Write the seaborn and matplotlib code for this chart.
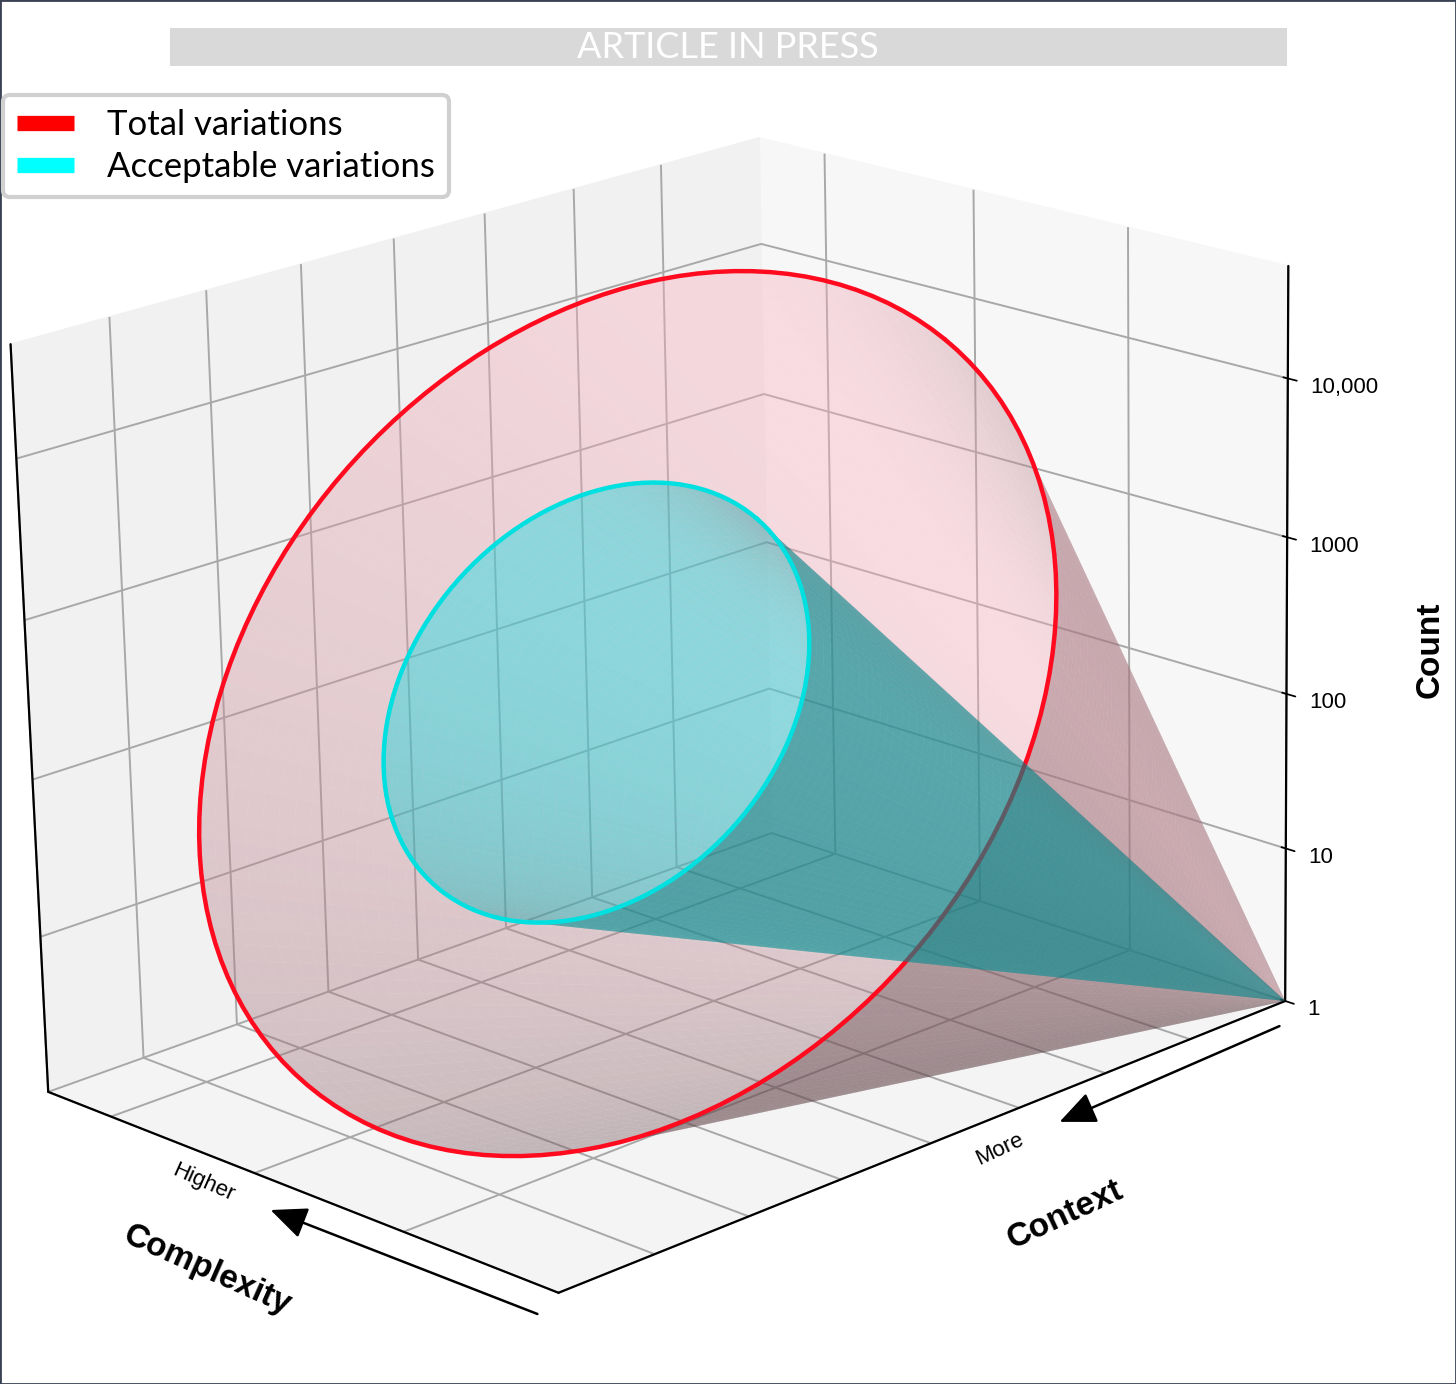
import numpy as np
import matplotlib.pyplot as plt
import seaborn as sns
from matplotlib.colors import LightSource
from matplotlib.lines import Line2D
from matplotlib.patches import Rectangle, FancyArrowPatch

sns.set_theme(style='white')
plt.rcParams['font.family'] = ['Liberation Sans', 'DejaVu Sans']
plt.rcParams['grid.color'] = '#a8a8a8'
plt.rcParams['grid.linewidth'] = 1.4
plt.rcParams['axes.edgecolor'] = 'black'
plt.rcParams['axes.linewidth'] = 1.6
plt.rcParams['axes.labelcolor'] = 'black'
plt.rcParams['xtick.color'] = 'black'
plt.rcParams['ytick.color'] = 'black'
plt.rcParams['text.color'] = 'black'

# axis values
context_ticks = [0, 1, 2, 3, 4, 5, 6, 7]
complexity_ticks = [0, 1, 2, 3]
count_values = [1, 10, 100, 1000, 10000]
count_labels = ['1', '10', '100', '1000', '10,000']
context_max = 8.15
complexity_max = 3.45
log_count_max = 4.7

# cones share the apex at (max context, min complexity, count 1); sizes in box units
cone_names = ['Total variations', 'Acceptable variations']
base_offsets = [np.array([-0.572, 0.363, 0.379]), np.array([-0.596, 0.370, 0.387])]
cone_radius = [0.478, 0.2375]
base_dir1 = np.array([0.658, -0.304, 0.688])
base_dir2 = np.array([0.1425, 0.948, 0.283])
light_alt = [-25, 19.47]
line_colors = ['#ff0a1e', '#00e0e0']
fill_colors = ['#ffb3c1', '#00e4ea']
fill_alpha = [0.38, 0.40]

box = (1.008, 0.731, 0.768)
box_arr = np.array(box)
lims = np.array([context_max, complexity_max, log_count_max])

fig = plt.figure(figsize=(14.56, 13.84), dpi=100)
ax = fig.add_axes([-0.0585, -0.0415, 1.003, 1.07], projection='3d')
ax.set_box_aspect(box, zoom=0.9922)
ax.view_init(elev=18.9, azim=-133.8, roll=1.3)
ax.computed_zorder = False

apex = np.array([box_arr[0], 0, 0])
t = np.linspace(0, 1, 70)
s = np.linspace(0, 2 * np.pi, 140)
T, _ = np.meshgrid(t, s)

for i, name in enumerate(cone_names):
    centre = apex + base_offsets[i]
    rim_box = centre + cone_radius[i] * (np.cos(s)[:, None] * base_dir1
                                         + np.sin(s)[:, None] * base_dir2)
    pts = apex + T[..., None] * (rim_box[:, None, :] - apex)
    pts = pts / box_arr * lims
    ax.plot_surface(pts[..., 0], pts[..., 1], pts[..., 2], color=fill_colors[i],
                    alpha=fill_alpha[i], linewidth=0, antialiased=True,
                    shade=True, lightsource=LightSource(azdeg=225, altdeg=light_alt[i]),
                    rstride=1, cstride=1, zorder=2 + 2 * i)
    rim = rim_box / box_arr * lims
    ax.plot(rim[:, 0], rim[:, 1], rim[:, 2], color=line_colors[i], lw=3.2,
            zorder=3 + 2 * i)

# dark left edge of the back wall
ax.plot([0, 0], [complexity_max, complexity_max], [0, log_count_max],
        color='black', lw=1.6, zorder=1)

ax.set_xlim(0, context_max)
ax.set_ylim(0, complexity_max)
ax.set_zlim(0, log_count_max)
ax.grid(True)

ax.set_xticks(context_ticks)
ax.set_xticklabels([''] * len(context_ticks))
ax.set_yticks(complexity_ticks)
ax.set_yticklabels([''] * len(complexity_ticks))
ax.set_zticks(np.log10(count_values))
ax.set_zticklabels(count_labels, fontsize=16, ha='left')
ax.zaxis.set_ticks_position('lower')
ax.zaxis.set_tick_params(pad=2)
for axis in (ax.xaxis, ax.yaxis):
    axis._axinfo['tick']['inward_factor'] = 0
    axis._axinfo['tick']['outward_factor'] = 0

ax.xaxis.set_pane_color('#f7f7f7')
ax.yaxis.set_pane_color('#f1f1f1')
ax.zaxis.set_pane_color('#f4f4f4')


def px(x, y):
    return x / 1456, 1 - y / 1384


# axis names and the single tick words
fig.text(*px(1065, 1215), 'Context', fontsize=24, fontweight='bold', rotation=25,
         ha='center', va='center')
fig.text(*px(207, 1270), 'Complexity', fontsize=24, fontweight='bold', rotation=-24,
         ha='center', va='center')
fig.text(*px(1430, 650), 'Count', fontsize=24, fontweight='bold', rotation=90,
         ha='center', va='center')
fig.text(*px(1000, 1149), 'More', fontsize=16, rotation=25, ha='center', va='center')
fig.text(*px(203, 1183), 'Higher', fontsize=16, rotation=-24, ha='center', va='center')

# legend
handles = [Line2D([], [], color=c, lw=11, solid_capstyle='butt')
           for c in ['#ff0000', '#00ffff']]
leg = fig.legend(handles, cone_names, loc='upper left',
                 bbox_to_anchor=px(3, 95), borderaxespad=0,
                 prop={'family': 'Lato', 'size': 25}, frameon=True, fancybox=True,
                 edgecolor='#d0d0d0', framealpha=1, handlelength=1.65,
                 handletextpad=0.95, borderpad=0.4, labelspacing=0.3)
leg.get_frame().set_linewidth(3)

# banner
fig.patches.append(Rectangle(px(170, 66), 1117 / 1456, 38 / 1384,
                             transform=fig.transFigure, facecolor='#d9d9d9',
                             edgecolor='none'))
fig.text(*px(728, 48), 'ARTICLE IN PRESS', ha='center', va='center',
         color='white', fontsize=26, family='Lato')

# direction arrows
for start, end in [((540, 1315), (268, 1209)), ((1282, 1025), (1057, 1123))]:
    fig.add_artist(FancyArrowPatch(px(*start), px(*end), transform=fig.transFigure,
                                   arrowstyle='-|>,head_length=0.8,head_width=0.35',
                                   mutation_scale=28, lw=1.8, color='black'))

fig.patches.append(Rectangle((0, 0), 1, 1, transform=fig.transFigure, fill=False,
                             edgecolor='#3a4152', lw=2))

fig.savefig('out.png', dpi=100)
